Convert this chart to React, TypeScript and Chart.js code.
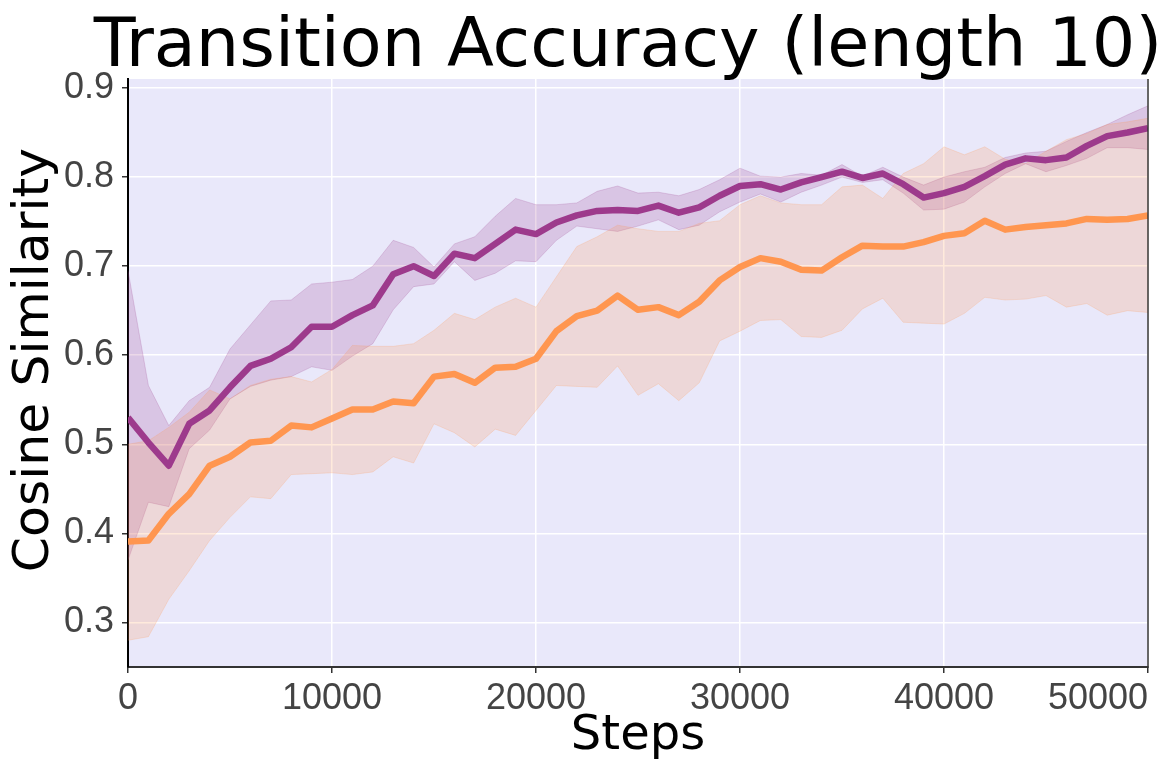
import React, { useEffect, useRef } from "react";
import { Chart, registerables } from "chart.js";

Chart.register(...registerables);

const TITLE = "Transition Accuracy (length 10)";
const X_LABEL = "Steps";
const Y_LABEL = "Cosine Similarity";

const STEPS = [
  0, 1000, 2000, 3000, 4000, 5000, 6000, 7000, 8000, 9000,
  10000, 11000, 12000, 13000, 14000, 15000, 16000, 17000, 18000, 19000,
  20000, 21000, 22000, 23000, 24000, 25000, 26000, 27000, 28000, 29000,
  30000, 31000, 32000, 33000, 34000, 35000, 36000, 37000, 38000, 39000,
  40000, 41000, 42000, 43000, 44000, 45000, 46000, 47000, 48000, 49000, 50000,
];

const X_TICKS = [0, 10000, 20000, 30000, 40000, 50000];
const Y_TICKS = [0.3, 0.4, 0.5, 0.6, 0.7, 0.8, 0.9];

const PURPLE_MEAN = [
  0.530, 0.502, 0.476, 0.523, 0.538, 0.564, 0.588, 0.596, 0.609, 0.632,
  0.632, 0.645, 0.656, 0.691, 0.700, 0.689, 0.714, 0.709, 0.725, 0.741,
  0.736, 0.749, 0.757, 0.762, 0.763, 0.762, 0.768, 0.760, 0.766, 0.779,
  0.790, 0.792, 0.786, 0.794, 0.800, 0.806, 0.799, 0.804, 0.792, 0.777,
  0.782, 0.789, 0.801, 0.814, 0.821, 0.819, 0.822, 0.835, 0.846, 0.850, 0.855,
];
const PURPLE_UPPER = [
  0.695, 0.566, 0.521, 0.549, 0.564, 0.607, 0.634, 0.661, 0.662, 0.680,
  0.682, 0.685, 0.700, 0.729, 0.721, 0.699, 0.725, 0.733, 0.756, 0.776,
  0.769, 0.769, 0.771, 0.784, 0.790, 0.782, 0.783, 0.779, 0.786, 0.797,
  0.810, 0.801, 0.800, 0.804, 0.802, 0.814, 0.801, 0.811, 0.800, 0.791,
  0.800, 0.806, 0.811, 0.822, 0.827, 0.829, 0.840, 0.850, 0.859, 0.870, 0.880,
];
const PURPLE_LOWER = [
  0.370, 0.435, 0.430, 0.495, 0.516, 0.551, 0.565, 0.572, 0.576, 0.587,
  0.583, 0.599, 0.613, 0.651, 0.677, 0.680, 0.705, 0.684, 0.692, 0.706,
  0.705, 0.729, 0.745, 0.742, 0.739, 0.745, 0.752, 0.741, 0.746, 0.761,
  0.772, 0.781, 0.772, 0.783, 0.791, 0.800, 0.794, 0.797, 0.782, 0.763,
  0.764, 0.772, 0.789, 0.804, 0.815, 0.806, 0.813, 0.821, 0.833, 0.833, 0.831,
];

const ORANGE_MEAN = [
  0.391, 0.392, 0.422, 0.444, 0.476, 0.486, 0.502, 0.504, 0.521, 0.519,
  0.529, 0.539, 0.539, 0.548, 0.546, 0.576, 0.579, 0.569, 0.586, 0.587,
  0.596, 0.627, 0.644, 0.650, 0.667, 0.651, 0.654, 0.645, 0.660, 0.684,
  0.699, 0.709, 0.705, 0.696, 0.695, 0.710, 0.723, 0.722, 0.722, 0.727,
  0.734, 0.737, 0.751, 0.741, 0.744, 0.746, 0.748, 0.753, 0.752, 0.753, 0.757,
];
const ORANGE_UPPER = [
  0.500, 0.504, 0.519, 0.536, 0.561, 0.551, 0.566, 0.573, 0.576, 0.570,
  0.584, 0.611, 0.610, 0.610, 0.613, 0.628, 0.647, 0.640, 0.654, 0.664,
  0.654, 0.688, 0.722, 0.733, 0.746, 0.742, 0.739, 0.739, 0.748, 0.751,
  0.769, 0.779, 0.771, 0.769, 0.769, 0.789, 0.791, 0.776, 0.804, 0.815,
  0.834, 0.825, 0.834, 0.820, 0.815, 0.829, 0.842, 0.849, 0.859, 0.862, 0.866,
];
const ORANGE_LOWER = [
  0.280, 0.284, 0.326, 0.358, 0.392, 0.418, 0.441, 0.439, 0.466, 0.467,
  0.468, 0.466, 0.469, 0.486, 0.479, 0.523, 0.513, 0.497, 0.517, 0.510,
  0.538, 0.566, 0.565, 0.564, 0.588, 0.555, 0.568, 0.549, 0.569, 0.616,
  0.627, 0.639, 0.640, 0.621, 0.620, 0.628, 0.652, 0.664, 0.637, 0.636,
  0.635, 0.647, 0.665, 0.662, 0.663, 0.667, 0.654, 0.658, 0.645, 0.650, 0.648,
];

const PURPLE = "rgb(157, 58, 140)";
const PURPLE_BAND = "rgba(157, 58, 140, 0.2)";
const ORANGE = "rgb(255, 150, 80)";
const ORANGE_BAND = "rgba(255, 150, 80, 0.2)";
const PLOT_BG = "#E9E8FA";

const toPoints = (ys: number[]) => STEPS.map((x, i) => ({ x, y: ys[i] }));

const decorPlugin = {
  id: "decor",
  beforeDraw(chart: any) {
    const { ctx, chartArea } = chart;
    const { left, top, right, bottom } = chartArea;
    ctx.save();
    ctx.fillStyle = PLOT_BG;
    ctx.fillRect(left, top, right - left, bottom - top);
    ctx.restore();
  },
  afterDraw(chart: any) {
    const { ctx, chartArea } = chart;
    const { left, top, right, bottom } = chartArea;
    ctx.save();
    ctx.strokeStyle = "#333";
    ctx.lineWidth = 1.5;
    ctx.beginPath();
    ctx.moveTo(right, top);
    ctx.lineTo(right, bottom + 1);
    ctx.stroke();
    ctx.fillStyle = "#000";
    ctx.font = '68.5px "DejaVu Sans"';
    ctx.textAlign = "center";
    ctx.textBaseline = "alphabetic";
    ctx.fillText(TITLE, (left + right) / 2 - 10, 66);
    ctx.translate(35, 360);
    ctx.rotate(-Math.PI / 2);
    ctx.font = '50.5px "DejaVu Sans"';
    ctx.textBaseline = "middle";
    ctx.fillText(Y_LABEL, 0, 0);
    ctx.restore();
  },
};

const tickFont = { family: '"Liberation Sans", Arial, sans-serif', size: 36 };
const titleFont = { family: '"DejaVu Sans"', size: 48 };

export default function App() {
  const ref = useRef<HTMLCanvasElement | null>(null);

  useEffect(() => {
    if (!ref.current) return;
    const bandCommon = { pointRadius: 0, borderWidth: 1, tension: 0 };
    const chart = new Chart(ref.current, {
      type: "line",
      data: {
        datasets: [
          { ...bandCommon, data: toPoints(PURPLE_LOWER), borderColor: PURPLE_BAND, fill: false, order: 5 },
          { ...bandCommon, data: toPoints(PURPLE_UPPER), borderColor: PURPLE_BAND, backgroundColor: PURPLE_BAND, fill: "-1", order: 4 },
          { ...bandCommon, data: toPoints(ORANGE_LOWER), borderColor: ORANGE_BAND, fill: false, order: 3 },
          { ...bandCommon, data: toPoints(ORANGE_UPPER), borderColor: ORANGE_BAND, backgroundColor: ORANGE_BAND, fill: "-1", order: 2 },
          { data: toPoints(PURPLE_MEAN), borderColor: PURPLE, borderWidth: 6.5, pointRadius: 0, fill: false, tension: 0, borderJoinStyle: "round", order: 1 },
          { data: toPoints(ORANGE_MEAN), borderColor: ORANGE, borderWidth: 6.5, pointRadius: 0, fill: false, tension: 0, borderJoinStyle: "round", order: 0 },
        ] as any,
      },
      options: {
        responsive: false,
        animation: false,
        devicePixelRatio: 1,
        layout: { padding: { top: 79, right: 15, left: 0, bottom: 0 } },
        plugins: {
          legend: { display: false },
          tooltip: { enabled: false },
          title: { display: false },
        },
        scales: {
          x: {
            type: "linear",
            min: 0,
            max: 50000,
            afterBuildTicks: (s: any) => {
              s.ticks = X_TICKS.map((v) => ({ value: v }));
            },
            afterFit: (s: any) => {
              s.height = 108;
              if (!s.__patched) {
                const orig = s._computeLabelItems;
                s._computeLabelItems = function (ca: any) {
                  const items = orig.call(this, ca);
                  if (items && items.length) items[0].options.textAlign = "center";
                  return items;
                };
                s.__patched = true;
              }
            },
            ticks: {
              font: tickFont,
              color: "#444",
              padding: 4,
              align: "inner",
              maxRotation: 0,
              autoSkip: false,
              callback: (v: any) => String(v),
            },
            grid: { color: "#ffffff", lineWidth: 1.5, tickColor: "#333", tickLength: 6 },
            border: { color: "#333", width: 2 },
            title: { display: true, text: X_LABEL, font: titleFont, color: "#000", padding: { top: 0, bottom: 10 } },
          },
          y: {
            type: "linear",
            min: 0.25,
            max: 0.9101,
            afterBuildTicks: (s: any) => {
              s.ticks = Y_TICKS.map((v) => ({ value: v }));
            },
            afterFit: (s: any) => {
              s.width = 128;
            },
            ticks: {
              font: tickFont,
              color: "#444",
              padding: 8,
              callback: (v: any) => Number(v).toFixed(1),
            },
            grid: { color: "#ffffff", lineWidth: 1.5, tickColor: "#333", tickLength: 6 },
            border: { color: "#000", width: 2 },
            title: { display: false },
          },
        },
      } as any,
      plugins: [decorPlugin],
    });
    return () => chart.destroy();
  }, []);

  return (
    <div style={{ position: "absolute", left: 0, top: 0, width: 1163, height: 775, background: "#fff" }}>
      <canvas ref={ref} width={1163} height={775} style={{ display: "block" }} />
    </div>
  );
}
